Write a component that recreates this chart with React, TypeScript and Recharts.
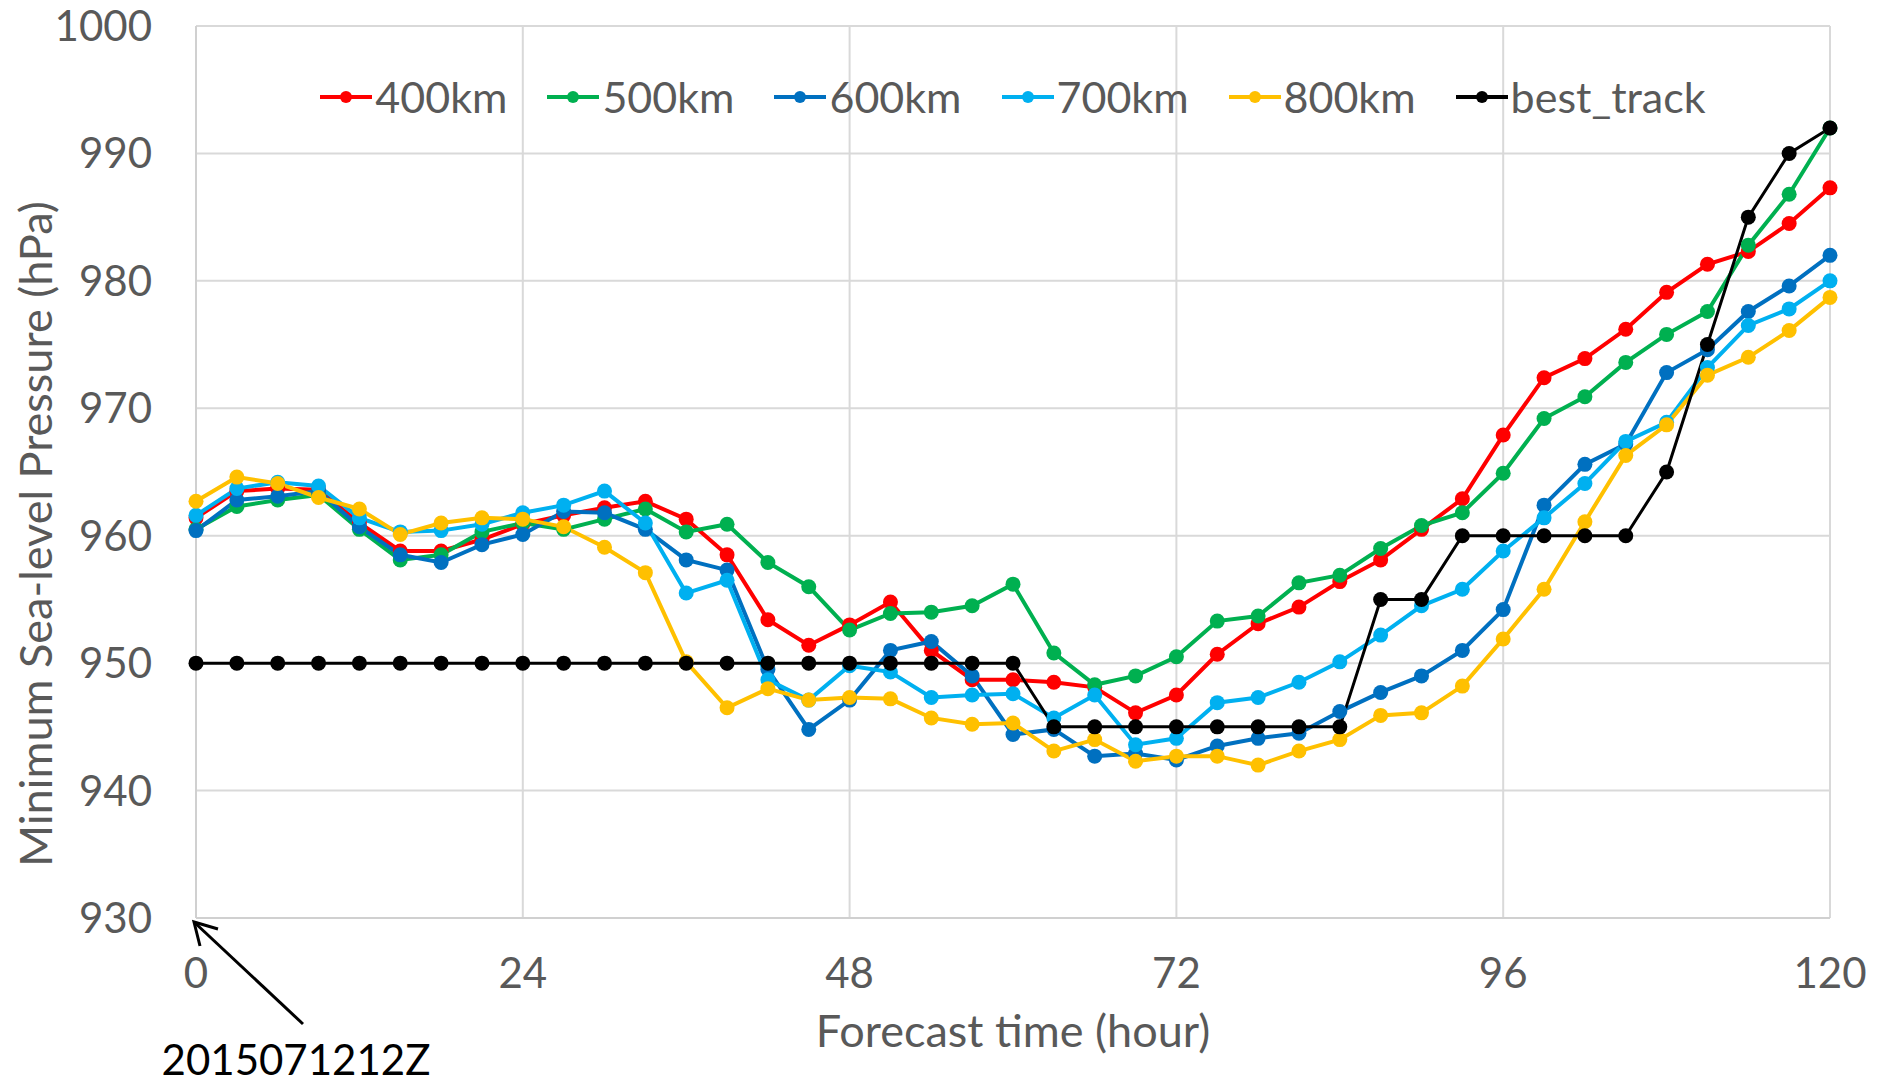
import { LineChart, Line, XAxis, YAxis, CartesianGrid, Legend, Label } from 'recharts';

// forecast lead time, hours
const HOURS = [
  0, 3, 6, 9, 12, 15, 18, 21, 24, 27, 30, 33, 36, 39, 42, 45, 48, 51, 54, 57, 60,
  63, 66, 69, 72, 75, 78, 81, 84, 87, 90, 93, 96, 99, 102, 105, 108, 111, 114, 117, 120,
];

// minimum sea-level pressure (hPa) for each domain radius
const P_400KM = [
  961.4, 963.5, 963.7, 963.6, 961.0, 958.8, 958.8, 959.7, 960.9, 961.6, 962.2,
  962.7, 961.3, 958.5, 953.4, 951.4, 953.0, 954.8, 951.0, 948.7, 948.7,
  948.5, 948.1, 946.1, 947.5, 950.7, 953.1, 954.4, 956.4, 958.1, 960.5,
  962.9, 967.9, 972.4, 973.9, 976.2, 979.1, 981.3, 982.3, 984.5, 987.3,
];
const P_500KM = [
  960.5, 962.3, 962.8, 963.2, 960.5, 958.1, 958.5, 960.3, 961.0, 960.5, 961.3,
  962.1, 960.3, 960.9, 957.9, 956.0, 952.6, 953.9, 954.0, 954.5, 956.2,
  950.8, 948.3, 949.0, 950.5, 953.3, 953.7, 956.3, 956.9, 959.0, 960.8,
  961.8, 964.9, 969.2, 970.9, 973.6, 975.8, 977.6, 982.8, 986.8, 992.0,
];
const P_600KM = [
  960.4, 962.8, 963.1, 963.5, 960.7, 958.5, 957.9, 959.3, 960.1, 961.9, 961.8,
  960.5, 958.1, 957.3, 949.5, 944.8, 947.1, 951.0, 951.7, 949.0, 944.4,
  944.8, 942.7, 942.9, 942.4, 943.5, 944.1, 944.5, 946.2, 947.7, 949.0,
  951.0, 954.2, 962.4, 965.6, 967.2, 972.8, 974.6, 977.6, 979.6, 982.0,
];
const P_700KM = [
  961.6, 963.7, 964.2, 963.9, 961.4, 960.3, 960.4, 960.9, 961.8, 962.4, 963.5,
  961.0, 955.5, 956.5, 948.7, 947.1, 949.8, 949.3, 947.3, 947.5, 947.6,
  945.7, 947.5, 943.6, 944.1, 946.9, 947.3, 948.5, 950.1, 952.2, 954.5,
  955.8, 958.8, 961.4, 964.1, 967.4, 968.9, 973.2, 976.5, 977.8, 980.0,
];
const P_800KM = [
  962.7, 964.6, 964.1, 963.0, 962.1, 960.1, 961.0, 961.4, 961.3, 960.7, 959.1,
  957.1, 950.1, 946.5, 948.0, 947.1, 947.3, 947.2, 945.7, 945.2, 945.3,
  943.1, 944.0, 942.3, 942.7, 942.7, 942.0, 943.1, 944.0, 945.9, 946.1,
  948.2, 951.9, 955.8, 961.1, 966.3, 968.7, 972.6, 974.0, 976.1, 978.7,
];
const BEST_TRACK = [
  950, 950, 950, 950, 950, 950, 950, 950, 950, 950, 950,
  950, 950, 950, 950, 950, 950, 950, 950, 950, 950,
  945, 945, 945, 945, 945, 945, 945, 945, 955, 955,
  960, 960, 960, 960, 960, 965, 975, 985, 990, 992,
];

const X_TICKS = [0, 24, 48, 72, 96, 120];
const Y_TICKS = [930, 940, 950, 960, 970, 980, 990, 1000];

const SERIES = [
  { key: 'p400', name: '400km', color: '#FF0000', values: P_400KM, width: 4 },
  { key: 'p500', name: '500km', color: '#00B050', values: P_500KM, width: 4 },
  { key: 'p600', name: '600km', color: '#0070C0', values: P_600KM, width: 4 },
  { key: 'p700', name: '700km', color: '#00B0F0', values: P_700KM, width: 4 },
  { key: 'p800', name: '800km', color: '#FFC000', values: P_800KM, width: 4 },
  { key: 'best', name: 'best_track', color: '#000000', values: BEST_TRACK, width: 3 },
];

const chartData = HOURS.map((hour, i) => {
  const row: Record<string, number> = { hour };
  SERIES.forEach((s) => {
    row[s.key] = s.values[i];
  });
  return row;
});

const FONT = 'Lato, "Open Sans", sans-serif';
const TEXT_GREY = '#595959';
const TICK_SIZE = 42;
const TITLE_SIZE = 45;

const W = 1879;
const H = 1086;
const PLOT = { left: 196, top: 26, right: 1830, bottom: 918 };

const XTick = ({ x, y, payload }: any) => (
  <text x={x} y={y + 62} textAnchor="middle" fontFamily={FONT} fontSize={TICK_SIZE} fill={TEXT_GREY}>
    {payload.value}
  </text>
);

const YTick = ({ y, payload }: any) => (
  <text x={152} y={y + 15} textAnchor="end" fontFamily={FONT} fontSize={TICK_SIZE} fill={TEXT_GREY}>
    {payload.value}
  </text>
);

const renderLegend = () => (
  <div
    style={{
      display: 'flex',
      justifyContent: 'center',
      alignItems: 'center',
      gap: 40,
      fontFamily: FONT,
      fontSize: 43,
      color: TEXT_GREY,
      lineHeight: '50px',
    }}
  >
    {SERIES.map((s) => (
      <div key={s.key} style={{ display: 'flex', alignItems: 'center' }}>
        <svg width={52} height={20}>
          <line x1={0} y1={10} x2={52} y2={10} stroke={s.color} strokeWidth={4} />
          <circle cx={26} cy={10} r={6} fill={s.color} />
        </svg>
        <span style={{ marginLeft: 3 }}>{s.name}</span>
      </div>
    ))}
  </div>
);

export default function App() {
  return (
    <div style={{ position: 'absolute', left: 0, top: 0, width: W, height: H, background: '#fff' }}>
      <LineChart
        width={W}
        height={H}
        data={chartData}
        margin={{ top: PLOT.top, right: W - PLOT.right, bottom: 0, left: 0 }}
      >
        <CartesianGrid stroke="#d9d9d9" strokeWidth={2} />
        <XAxis
          dataKey="hour"
          type="number"
          domain={[0, 120]}
          ticks={X_TICKS}
          tick={<XTick />}
          tickLine={false}
          axisLine={{ stroke: '#d0d0d0', strokeWidth: 2 }}
          height={H - PLOT.bottom}
          interval={0}
        >
          <Label
            content={() => (
              <text
                x={1013}
                y={1047}
                textAnchor="middle"
                fontFamily={FONT}
                fontSize={TITLE_SIZE}
                fill={TEXT_GREY}
              >
                Forecast time (hour)
              </text>
            )}
          />
        </XAxis>
        <YAxis
          type="number"
          domain={[930, 1000]}
          ticks={Y_TICKS}
          tick={<YTick />}
          tickLine={false}
          axisLine={{ stroke: '#d0d0d0', strokeWidth: 2 }}
          width={PLOT.left}
          interval={0}
        >
          <Label
            content={() => (
              <text
                transform="translate(52, 534) rotate(-90)"
                textAnchor="middle"
                fontFamily={FONT}
                fontSize={TITLE_SIZE}
                fill={TEXT_GREY}
              >
                Minimum Sea-level Pressure (hPa)
              </text>
            )}
          />
        </YAxis>
        <Legend
          verticalAlign="middle"
          layout="horizontal"
          content={renderLegend}
          wrapperStyle={{ top: 72, left: PLOT.left, width: PLOT.right - PLOT.left }}
        />
        {SERIES.map((s) => (
          <Line
            key={s.key}
            dataKey={s.key}
            name={s.name}
            stroke={s.color}
            strokeWidth={s.width}
            dot={{ r: 7.5, fill: s.color, stroke: s.color, strokeWidth: 0 }}
            activeDot={false}
            isAnimationActive={false}
          />
        ))}
      </LineChart>
      {/* initial-time annotation below the origin */}
      <svg width={W} height={H} style={{ position: 'absolute', left: 0, top: 0, pointerEvents: 'none' }}>
        <line x1={303} y1={1024} x2={194} y2={922} stroke="#000" strokeWidth={3} />
        <polyline points="200,946 194,922 218,929" fill="none" stroke="#000" strokeWidth={3} />
        <text x={296} y={1075} textAnchor="middle" fontFamily={FONT} fontSize={TICK_SIZE} fill="#000">
          2015071212Z
        </text>
      </svg>
    </div>
  );
}
